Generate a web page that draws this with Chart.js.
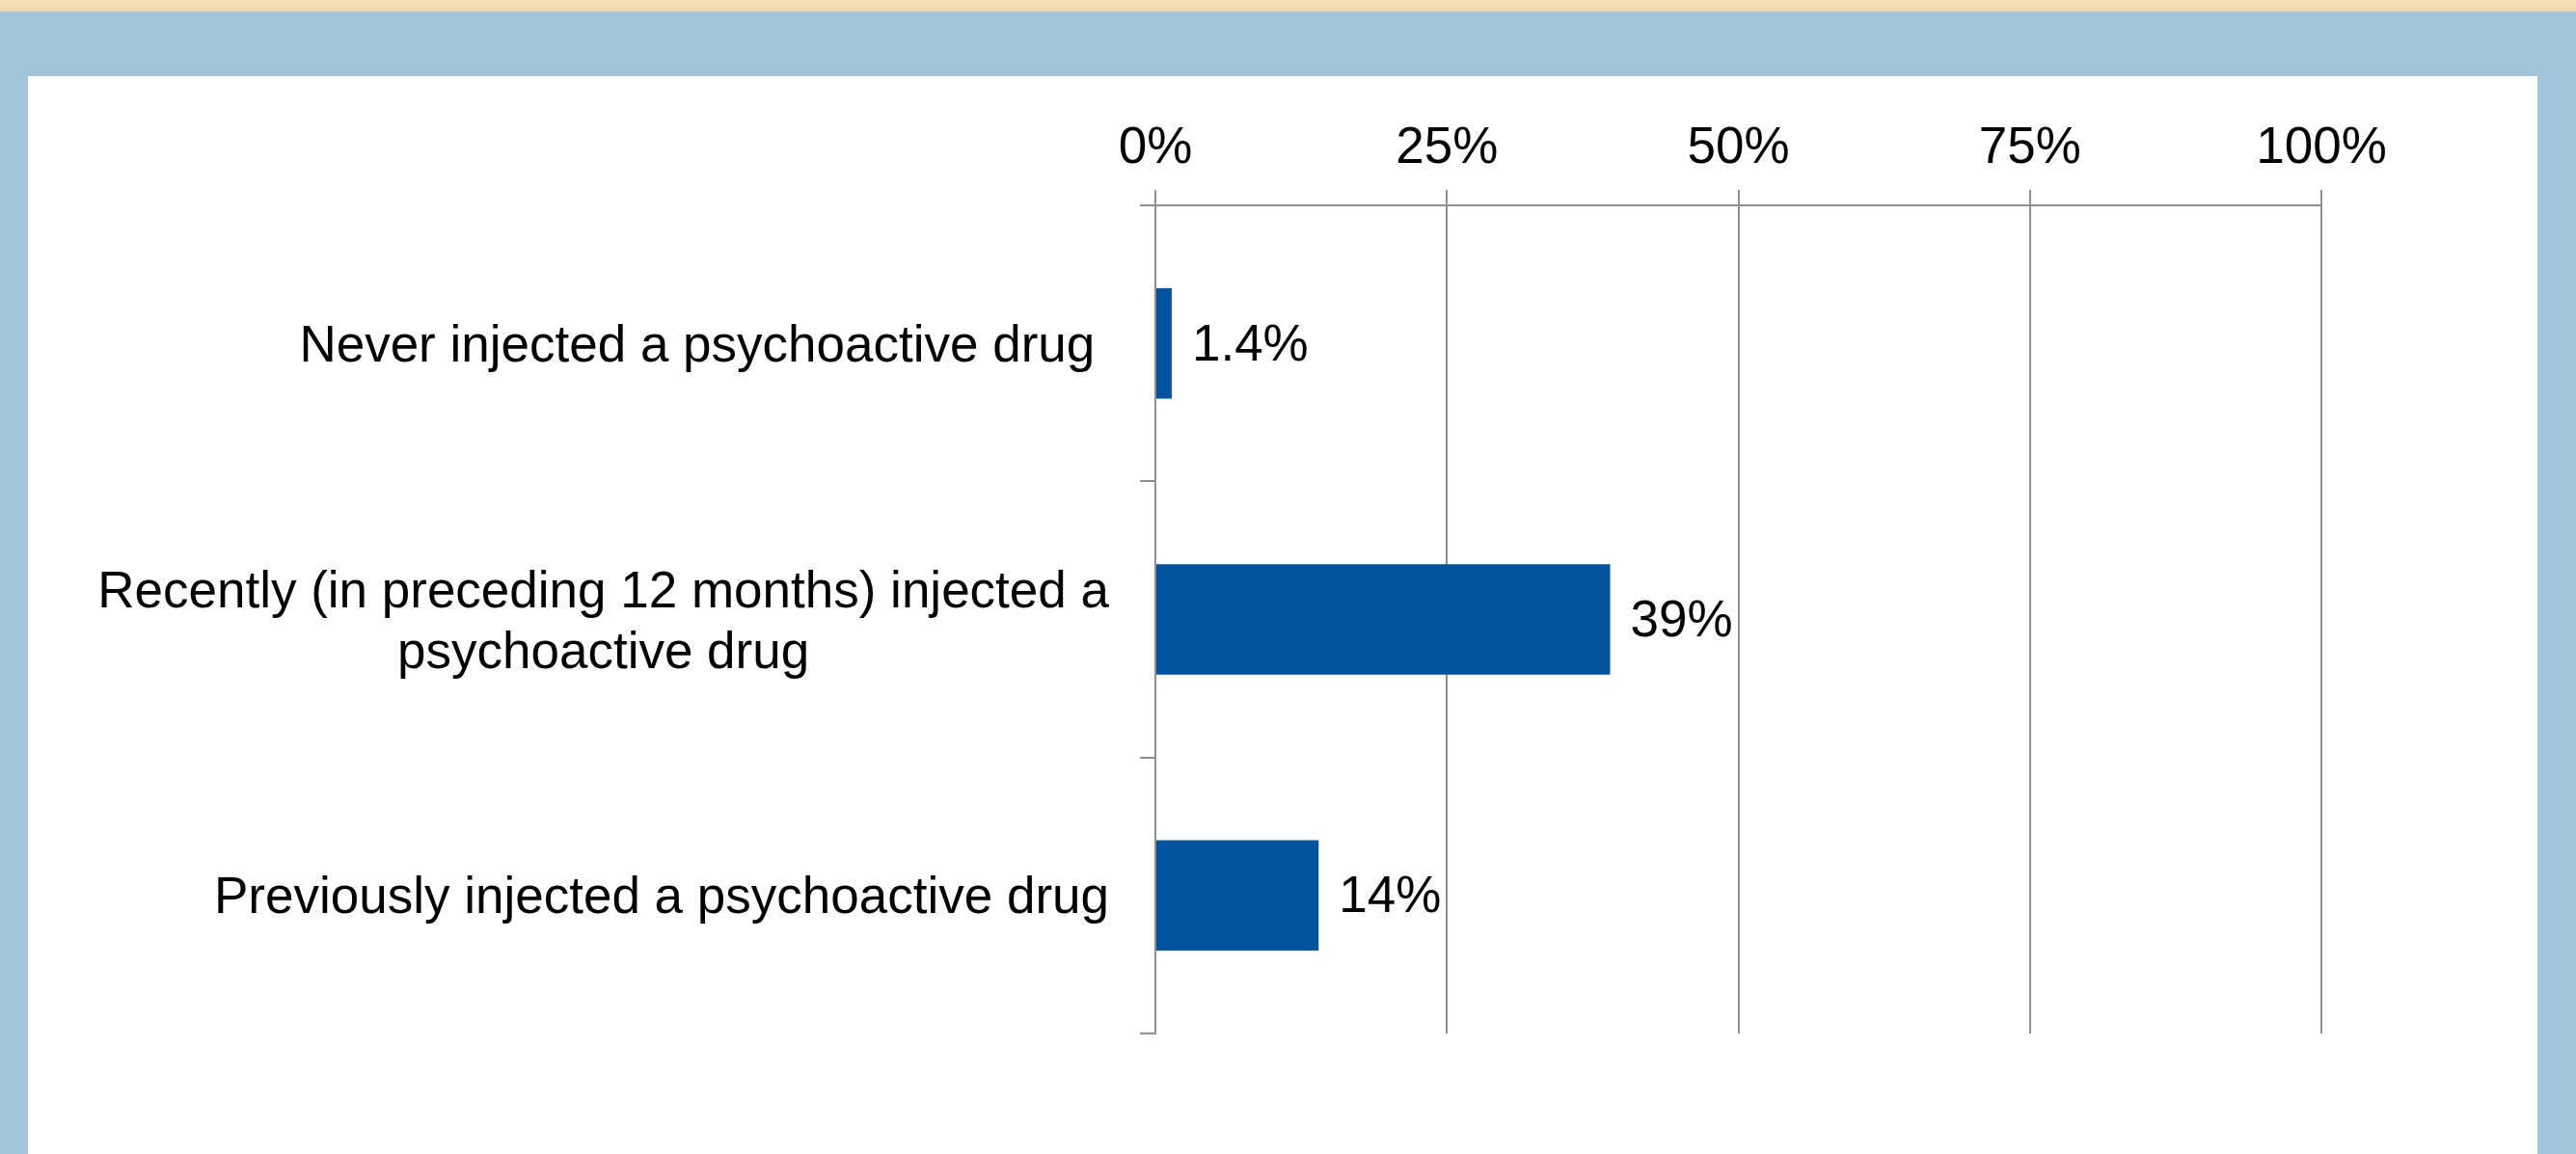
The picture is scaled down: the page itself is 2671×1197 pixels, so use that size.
<!DOCTYPE html>
<html>
<head>
<meta charset="utf-8">
<script src="https://cdn.jsdelivr.net/npm/chart.js@4"></script>
<style>
    html, body { margin: 0; padding: 0; }
    body { width: 2671px; height: 1197px; background: #a1c4da; position: relative; overflow: hidden; }
    #topStrip { position: absolute; left: 0; top: 0; width: 2671px; height: 12px; background: linear-gradient(#f5dfb2, #efd8ab); }
    #panel { position: absolute; left: 29px; top: 79px; width: 2602px; height: 1118px; background: #ffffff; }
    #chart { display: block; }
</style>
</head>
<body>
<div id="topStrip"></div>
<div id="panel"><canvas id="chart" width="2602" height="1118"></canvas></div>
<script>
// categories (multi-line labels as arrays)
const categories = [
    ['Never injected a psychoactive drug '],
    ['Recently (in preceding 12 months) injected a', 'psychoactive drug'],
    ['Previously injected a psychoactive drug']
];
const percentValues = [1.4, 39, 14];
const valueLabels = ['1.4%', '39%', '14%'];
const xTicks = [0, 25, 50, 75, 100];

const FONT = '"Liberation Sans", Arial, sans-serif';
const FONT_SIZE = 53;
const GRID = '#8f8f8f';

// draws category labels: box right-aligned, lines centered inside it (like the original)
const categoryLabels = {
    id: 'categoryLabels',
    afterDraw(chart) {
        const ctx = chart.ctx;
        const yScale = chart.scales.y;
        const right = chart.chartArea.left - 48;
        const lineH = 63;
        ctx.save();
        ctx.font = FONT_SIZE + 'px ' + FONT;
        ctx.fillStyle = '#000';
        ctx.textAlign = 'center';
        ctx.textBaseline = 'middle';
        categories.forEach(function(lines, i) {
            const y = yScale.getPixelForTick(i) + 4;
            let w = 0;
            lines.forEach(l => { w = Math.max(w, ctx.measureText(l).width); });
            const cx = right - w / 2;
            const y0 = y - (lines.length - 1) * lineH / 2;
            lines.forEach(function(l, j) { ctx.fillText(l, cx, y0 + j * lineH); });
        });
        ctx.restore();
    }
};

// value labels at the end of each bar
const valueLabelPlugin = {
    id: 'valueLabels',
    afterDatasetsDraw(chart) {
        const ctx = chart.ctx;
        const meta = chart.getDatasetMeta(0);
        ctx.save();
        ctx.font = FONT_SIZE + 'px ' + FONT;
        ctx.fillStyle = '#000';
        ctx.textAlign = 'left';
        ctx.textBaseline = 'middle';
        meta.data.forEach(function(bar, i) {
            ctx.fillText(valueLabels[i], bar.x + 21, bar.y + 3);
        });
        ctx.restore();
    }
};

new Chart(document.getElementById('chart').getContext('2d'), {
    type: 'bar',
    data: {
        labels: categories.map(c => c.join(' ')),
        datasets: [{
            data: percentValues,
            backgroundColor: '#00529c',
            borderWidth: 0,
            barPercentage: 0.4,
            categoryPercentage: 1.0
        }]
    },
    options: {
        indexAxis: 'y',
        responsive: false,
        animation: false,
        layout: { padding: { left: 0, top: 0, right: 224, bottom: 125 } },
        plugins: { legend: { display: false }, tooltip: { enabled: false } },
        scales: {
            x: {
                position: 'top',
                min: 0, max: 100,
                afterBuildTicks: function(scale) { scale.ticks = xTicks.map(v => ({ value: v })); },
                afterFit: function(scale) { scale.height = 134; },
                ticks: {
                    padding: 11,
                    color: '#000',
                    font: { family: FONT, size: FONT_SIZE },
                    callback: v => v + '%'
                },
                grid: { color: GRID, lineWidth: 2, tickLength: 16, drawTicks: true },
                border: { color: GRID, width: 2 }
            },
            y: {
                afterFit: function(scale) { scale.width = 1169; },
                ticks: { display: false },
                grid: { color: GRID, lineWidth: 2, tickLength: 16, drawOnChartArea: false, offset: true },
                border: { color: GRID, width: 2 }
            }
        }
    },
    plugins: [categoryLabels, valueLabelPlugin]
});
</script>
</body>
</html>
